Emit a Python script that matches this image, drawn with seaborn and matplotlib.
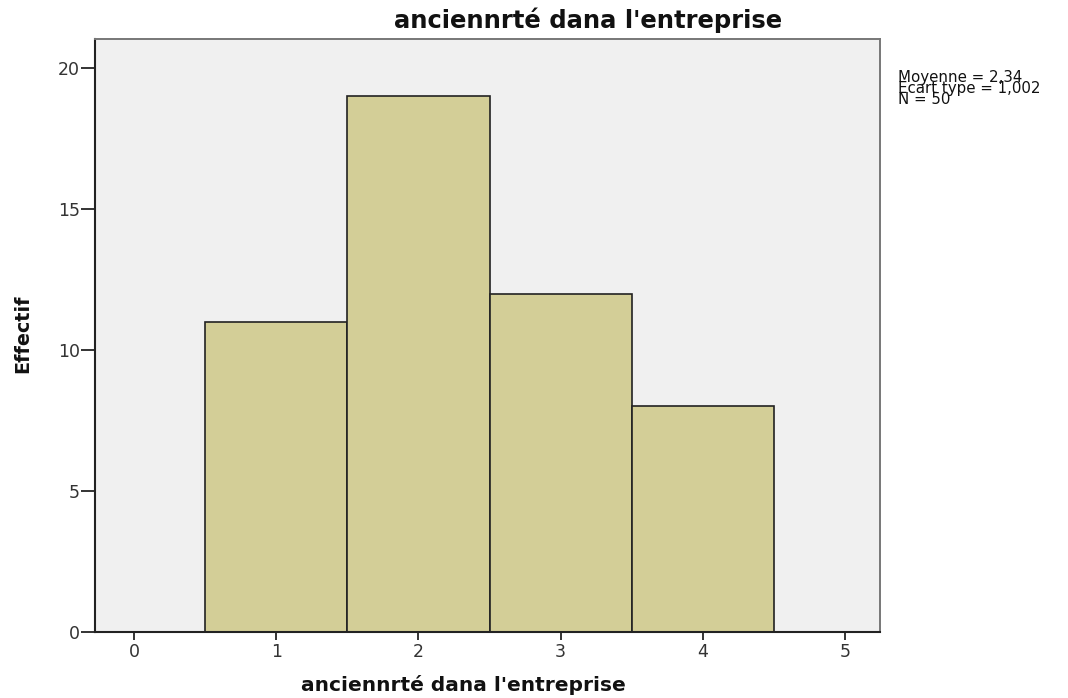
import numpy as np
import matplotlib
matplotlib.use("Agg")
import matplotlib.pyplot as plt
import seaborn as sns

# données
anciennete = [1, 2, 3, 4]
effectifs = [11, 19, 12, 8]
x_ticks = [0, 1, 2, 3, 4, 5]
y_ticks = [0, 5, 10, 15, 20]
stats_txt = "Moyenne = 2,34\nEcart type = 1,002\nN = 50"

sns.set_style("white")
plt.rcParams['font.family'] = ['DejaVu Sans']
plt.rcParams['text.color'] = "#111111"
plt.rcParams['axes.labelcolor'] = "#111111"

fig = plt.figure(figsize=(10.68, 6.98), dpi=100)
ax = fig.add_axes([0.089, 0.0946, 0.735, 0.8494])
ax.set_facecolor("#f0f0f0")

sns.histplot(x=anciennete, weights=effectifs, discrete=True, ax=ax,
             color="#d3ce97", edgecolor="#222222", linewidth=1.2, alpha=1)

ax.set_xlim(-0.274, 5.246)
ax.set_ylim(0, 21.03)
ax.set_xticks(x_ticks)
ax.set_yticks(y_ticks)
ax.tick_params(axis="both", bottom=True, left=True, width=1.4,
               color="#333333", labelsize=12.5, labelcolor="#333333")
ax.tick_params(axis="x", direction="out", length=6, pad=2)
ax.tick_params(axis="y", direction="out", length=10, pad=1)
for s in ["left", "bottom"]:
    ax.spines[s].set_color("#222222")
    ax.spines[s].set_linewidth(1.5)
for s in ["top", "right"]:
    ax.spines[s].set_color("#777777")
    ax.spines[s].set_linewidth(1.4)

# titre décalé comme dans SPSS
fig.text(588 / 1068, 1 - 20 / 698, "anciennrté dana l'entreprise",
         fontsize=17.5, fontweight="bold", ha="center", va="center")

ax.set_xlabel("anciennrté dana l'entreprise", fontsize=14.5, fontweight="bold")
ax.xaxis.label.set_va("center")
ax.xaxis.set_label_coords(0.469, -(685 - 632) / 593)
ax.set_ylabel("Effectif", fontsize=13.8, fontweight="bold")
ax.yaxis.label.set_va("center")
ax.yaxis.set_label_coords(-0.092, 0.5025)

fig.text(898 / 1068, 1 - 70 / 698, stats_txt, fontsize=10.8, va="top", ha="left",
         linespacing=0.68, color="#111111")

fig.savefig("out.png", dpi=100)
